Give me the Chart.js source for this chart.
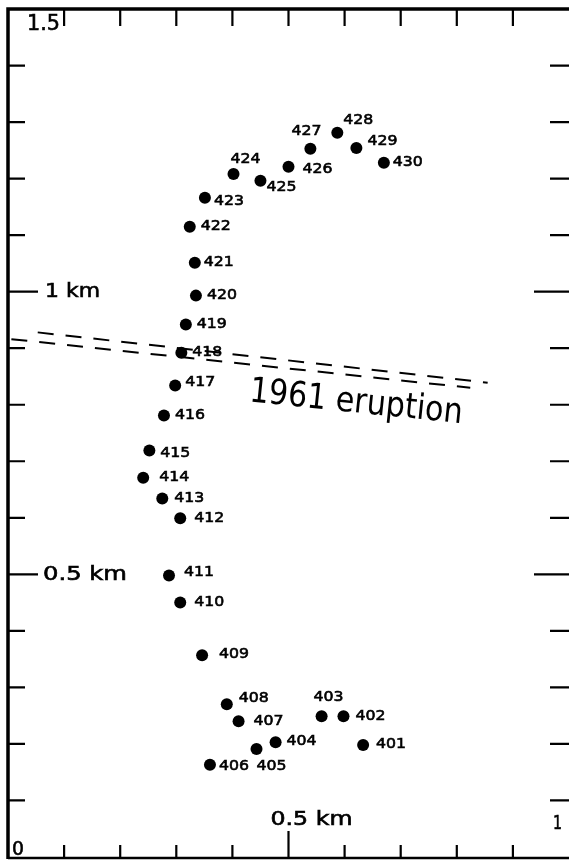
<!DOCTYPE html>
<html>
<head>
<meta charset="utf-8">
<script src="https://cdn.jsdelivr.net/npm/chart.js@4.4.1/dist/chart.umd.min.js"></script>
<style>
    html, body { margin: 0; padding: 0; background: #fff; overflow: hidden; }
    #wrap { width: 575px; height: 863px; }
</style>
</head>
<body>
<div id="wrap"><canvas id="profileChart" width="575" height="863"></canvas></div>
<script>
// station numbers and positions (km)
const stationLabels = ["401", "402", "403", "404", "405", "406", "407", "408", "409", "410",
    "411", "412", "413", "414", "415", "416", "417", "418", "419", "420",
    "421", "422", "423", "424", "425", "426", "427", "428", "429", "430"];
const stationX = [0.633, 0.598, 0.559, 0.477, 0.443, 0.360, 0.411, 0.390, 0.346, 0.307,
    0.287, 0.307, 0.275, 0.241, 0.252, 0.278, 0.298, 0.309, 0.317, 0.335,
    0.333, 0.324, 0.351, 0.402, 0.450, 0.500, 0.539, 0.587, 0.621, 0.670];
const stationY = [0.198, 0.249, 0.249, 0.203, 0.191, 0.163, 0.240, 0.270, 0.357, 0.450,
    0.498, 0.599, 0.634, 0.671, 0.719, 0.781, 0.834, 0.892, 0.942, 0.993,
    1.051, 1.115, 1.166, 1.208, 1.196, 1.221, 1.253, 1.281, 1.254, 1.228];

// 1961 eruption fissure, two dashed traces
const upperFissureX = [0.053, 0.855];
const upperFissureY = [0.928, 0.839];
const lowerFissureX = [0.006, 0.824];
const lowerFissureY = [0.916, 0.830];

const xTickValues = [0.1, 0.2, 0.3, 0.4, 0.5, 0.6, 0.7, 0.8, 0.9];
const yTickValues = [0.1, 0.2, 0.3, 0.4, 0.5, 0.6, 0.7, 0.8, 0.9, 1.0, 1.1, 1.2, 1.3, 1.4];
const longTickValues = [0.5, 1.0];

// label placement next to each dot: [dx, dy] in px
const labelOffsets = [[13, -1], [12, 0], [-8, -19], [11, -1], [0, 17], [9, 2], [15, 0], [12, -6], [17, -1], [14, 0],
    [15, -3], [14, 0], [12, 0], [16, 0], [11, 3], [11, 0], [10, -3], [11, 0], [11, 0], [11, 0],
    [9, 0], [11, 0], [9, 4], [-3, -15], [6, 6], [14, 3], [-19, -17], [6, -12], [11, -7], [9, 0]];

const LABEL_FONT = "'DejaVu Sans', 'Liberation Sans', sans-serif";

function drawStretched(ctx, text, x, y, size, width, align) {
    ctx.save();
    ctx.font = size + "px " + LABEL_FONT;
    const w = ctx.measureText(text).width;
    ctx.translate(x, y);
    ctx.scale(width / w, 1);
    ctx.textAlign = "left";
    ctx.lineWidth = 0.6;
    const tx = align === "right" ? -w : 0;
    ctx.fillText(text, tx, 0);
    ctx.strokeText(text, tx, 0);
    ctx.restore();
}

function toPoints(xs, ys) {
    return xs.map((x, i) => ({ x: x, y: ys[i] }));
}

const framePlugin = {
    id: "frame",
    afterDraw(chart) {
        const ctx = chart.ctx;
        const xs = chart.scales.x;
        const ys = chart.scales.y;
        const left = xs.getPixelForValue(0);
        const right = xs.getPixelForValue(1);
        const top = ys.getPixelForValue(1.5);
        const bottom = ys.getPixelForValue(0);

        ctx.save();
        ctx.strokeStyle = "#000";
        ctx.fillStyle = "#000";
        ctx.lineCap = "butt";

        // frame
        ctx.lineWidth = 3.5;
        ctx.beginPath();
        ctx.moveTo(left, bottom + 2);
        ctx.lineTo(left, top);
        ctx.lineTo(right + 4, top);
        ctx.stroke();
        ctx.lineWidth = 2.5;
        ctx.beginPath();
        ctx.moveTo(left, bottom + 1);
        ctx.lineTo(right + 4, bottom + 1);
        ctx.stroke();

        // ticks
        ctx.lineWidth = 2.2;
        xTickValues.forEach(v => {
            const px = xs.getPixelForValue(v);
            const big = longTickValues.includes(v);
            ctx.beginPath();
            ctx.moveTo(px, top);
            ctx.lineTo(px, top + 17);
            ctx.moveTo(px, bottom + 1);
            ctx.lineTo(px, bottom - (big ? 26 : 12));
            ctx.stroke();
        });
        yTickValues.forEach(v => {
            const py = ys.getPixelForValue(v);
            const big = longTickValues.includes(v);
            ctx.beginPath();
            ctx.moveTo(left, py);
            ctx.lineTo(left + (big ? 30 : 17), py);
            ctx.moveTo(right, py);
            ctx.lineTo(right - (big ? 35 : 19), py);
            ctx.stroke();
        });

        // axis labels
        ctx.textBaseline = "alphabetic";
        drawStretched(ctx, "1.5", left + 19, top + 21, 21, 33);
        ctx.textBaseline = "middle";
        drawStretched(ctx, "1 km", left + 37, ys.getPixelForValue(1.0), 19, 55);
        drawStretched(ctx, "0.5 km", left + 35, ys.getPixelForValue(0.5) + 1, 19, 84);
        ctx.textBaseline = "alphabetic";
        drawStretched(ctx, "0", left + 4, bottom - 2, 19, 12);
        drawStretched(ctx, "0.5 km", xs.getPixelForValue(0.5) - 18, bottom - 32, 19, 82);
        drawStretched(ctx, "1", right - 7, bottom - 28, 19, 9, "right");

        // station numbers
        const meta = chart.getDatasetMeta(0);
        ctx.textBaseline = "middle";
        meta.data.forEach((pt, i) => {
            const off = labelOffsets[i];
            drawStretched(ctx, stationLabels[i], pt.x + off[0], pt.y + off[1], 14, 30);
        });

        // eruption label along the fissure
        const x0 = xs.getPixelForValue(upperFissureX[0]);
        const y0 = ys.getPixelForValue(upperFissureY[0]);
        const x1 = xs.getPixelForValue(upperFissureX[1]);
        const y1 = ys.getPixelForValue(upperFissureY[1]);
        const angle = Math.atan2(y1 - y0, x1 - x0) * 0.92;
        ctx.translate(xs.getPixelForValue(0.429), ys.getPixelForValue(0.806));
        ctx.rotate(angle);
        ctx.font = "35px 'DejaVu Sans', sans-serif";
        ctx.textBaseline = "alphabetic";
        const w = ctx.measureText("1961 eruption").width;
        ctx.scale(214 / w, 1);
        ctx.fillText("1961 eruption", 0, 0);
        ctx.restore();
    }
};

const fissureStyle = {
    showLine: true,
    borderColor: "#000",
    borderWidth: 2,
    borderDash: [16, 12],
    pointRadius: 0,
    fill: false
};

new Chart(document.getElementById("profileChart"), {
    type: "scatter",
    data: {
        datasets: [
            {
                label: "Stations",
                data: toPoints(stationX, stationY),
                pointRadius: 6,
                pointHoverRadius: 6,
                backgroundColor: "#000",
                borderWidth: 0
            },
            Object.assign({ label: "1961 upper", data: toPoints(upperFissureX, upperFissureY) }, fissureStyle),
            Object.assign({ label: "1961 lower", data: toPoints(lowerFissureX, lowerFissureY) }, fissureStyle)
        ]
    },
    options: {
        responsive: false,
        animation: false,
        events: [],
        layout: { padding: { left: 8, top: 9, right: 3, bottom: 5 } },
        plugins: { legend: { display: false }, tooltip: { enabled: false } },
        scales: {
            x: { type: "linear", min: 0, max: 1, display: false },
            y: { type: "linear", min: 0, max: 1.5, display: false }
        }
    },
    plugins: [framePlugin]
});
</script>
</body>
</html>
